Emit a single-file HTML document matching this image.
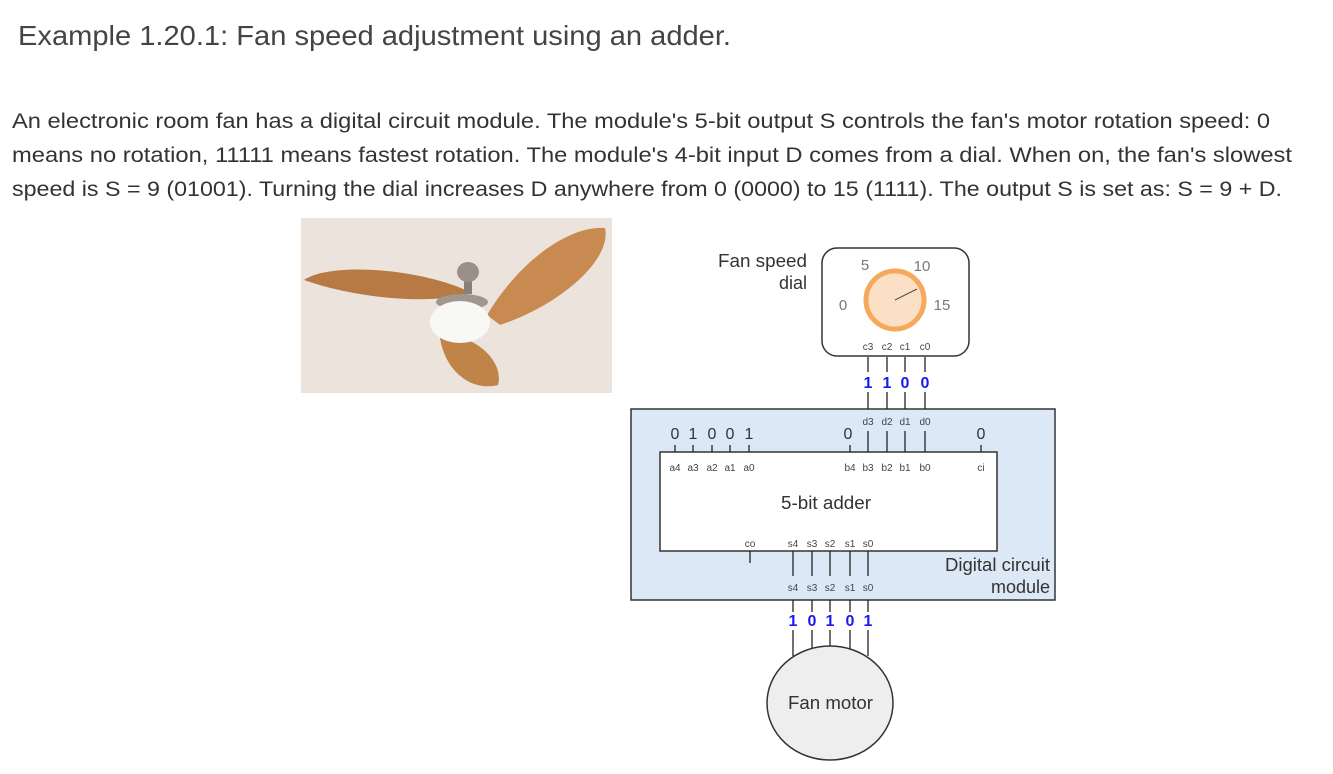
<!DOCTYPE html>
<html><head><meta charset="utf-8"><style>
html,body{margin:0;padding:0;background:#fff;width:1333px;height:774px;overflow:hidden}
svg{display:block}
</style></head><body>
<svg width="1333" height="774" xmlns="http://www.w3.org/2000/svg" font-family="Liberation Sans, sans-serif">
<text x="18" y="45" font-size="28" fill="#444" textLength="713" lengthAdjust="spacingAndGlyphs">Example 1.20.1: Fan speed adjustment using an adder.</text>
<g font-size="21" fill="#333">
<text x="12" y="128" textLength="1258" lengthAdjust="spacingAndGlyphs">An electronic room fan has a digital circuit module. The module's 5-bit output S controls the fan's motor rotation speed: 0</text>
<text x="12" y="162" textLength="1280" lengthAdjust="spacingAndGlyphs">means no rotation, 11111 means fastest rotation. The module's 4-bit input D comes from a dial. When on, the fan's slowest</text>
<text x="12" y="196" textLength="1270" lengthAdjust="spacingAndGlyphs">speed is S = 9 (01001). Turning the dial increases D anywhere from 0 (0000) to 15 (1111). The output S is set as: S = 9 + D.</text>
</g>
<!-- photo -->
<rect x="301" y="218" width="311" height="175" fill="#ece4dc"/>
<path d="M304,280 C330,262 420,268 470,292 C440,305 360,300 304,280 Z" fill="#b87a45"/>
<path d="M487,315 C520,260 570,225 605,228 C612,260 560,305 500,325 Z" fill="#c88a50"/>
<path d="M440,338 C470,330 505,360 498,385 C470,392 445,370 440,338 Z" fill="#c08448"/>
<rect x="464" y="272" width="8" height="22" fill="#8a8078"/>
<ellipse cx="468" cy="272" rx="11" ry="10" fill="#9a9088"/>
<ellipse cx="462" cy="302" rx="26" ry="8" fill="#a09890"/>
<ellipse cx="460" cy="322" rx="30" ry="21" fill="#f8f8f6"/>
<!-- dial -->
<g font-size="18" fill="#333" text-anchor="end">
<text x="807" y="267" textLength="89" lengthAdjust="spacingAndGlyphs">Fan speed</text><text x="807" y="289">dial</text>
</g>
<rect x="822" y="248" width="147" height="108" rx="15" fill="#fff" stroke="#333" stroke-width="1.5"/>
<circle cx="895" cy="300" r="29" fill="#fbe0c6" stroke="#f5a95a" stroke-width="5"/>
<line x1="895" y1="300" x2="917" y2="289" stroke="#555" stroke-width="1.2"/>
<g font-size="15" fill="#777" text-anchor="middle">
<text x="865" y="270">5</text><text x="922" y="271">10</text><text x="843" y="310">0</text><text x="942" y="310">15</text>
</g>
<g font-size="10" fill="#444" text-anchor="middle">
<text x="868" y="350">c3</text><text x="887" y="350">c2</text><text x="905" y="350">c1</text><text x="925" y="350">c0</text>
</g>
<!-- module -->
<rect x="631" y="409" width="424" height="191" fill="#dce8f5" stroke="#333" stroke-width="1.5"/>
<rect x="660" y="452" width="337" height="99" fill="#fff" stroke="#333" stroke-width="1.5"/>
<g stroke="#222" stroke-width="1.3">
<line x1="868" y1="357" x2="868" y2="372"/><line x1="887" y1="357" x2="887" y2="372"/><line x1="905" y1="357" x2="905" y2="372"/><line x1="925" y1="357" x2="925" y2="372"/>
<line x1="868" y1="392" x2="868" y2="409"/><line x1="887" y1="392" x2="887" y2="409"/><line x1="905" y1="392" x2="905" y2="409"/><line x1="925" y1="392" x2="925" y2="409"/>
<line x1="868" y1="431" x2="868" y2="452"/><line x1="887" y1="431" x2="887" y2="452"/><line x1="905" y1="431" x2="905" y2="452"/><line x1="925" y1="431" x2="925" y2="452"/>
<line x1="850" y1="445" x2="850" y2="452"/><line x1="981" y1="445" x2="981" y2="452"/>
<line x1="675" y1="445" x2="675" y2="452"/><line x1="693" y1="445" x2="693" y2="452"/><line x1="712" y1="445" x2="712" y2="452"/><line x1="730" y1="445" x2="730" y2="452"/><line x1="749" y1="445" x2="749" y2="452"/>
<line x1="750" y1="551" x2="750" y2="563"/>
<line x1="793" y1="551" x2="793" y2="576"/><line x1="812" y1="551" x2="812" y2="576"/><line x1="830" y1="551" x2="830" y2="576"/><line x1="850" y1="551" x2="850" y2="576"/><line x1="868" y1="551" x2="868" y2="576"/>
<line x1="793" y1="600" x2="793" y2="612"/><line x1="812" y1="600" x2="812" y2="612"/><line x1="830" y1="600" x2="830" y2="612"/><line x1="850" y1="600" x2="850" y2="612"/><line x1="868" y1="600" x2="868" y2="612"/>
<line x1="793" y1="630" x2="793" y2="656"/><line x1="812" y1="630" x2="812" y2="652"/><line x1="830" y1="630" x2="830" y2="650"/><line x1="850" y1="630" x2="850" y2="652"/><line x1="868" y1="630" x2="868" y2="656"/>
</g>
<g font-size="16" font-weight="bold" fill="#1a1aee" text-anchor="middle">
<text x="868" y="388">1</text><text x="887" y="388">1</text><text x="905" y="388">0</text><text x="925" y="388">0</text>
<text x="793" y="626">1</text><text x="812" y="626">0</text><text x="830" y="626">1</text><text x="850" y="626">0</text><text x="868" y="626">1</text>
</g>
<g font-size="16" fill="#333" text-anchor="middle">
<text x="675" y="439">0</text><text x="693" y="439">1</text><text x="712" y="439">0</text><text x="730" y="439">0</text><text x="749" y="439">1</text>
<text x="848" y="439">0</text><text x="981" y="439">0</text>
</g>
<g font-size="10" fill="#444" text-anchor="middle">
<text x="868" y="425">d3</text><text x="887" y="425">d2</text><text x="905" y="425">d1</text><text x="925" y="425">d0</text>
<text x="675" y="471">a4</text><text x="693" y="471">a3</text><text x="712" y="471">a2</text><text x="730" y="471">a1</text><text x="749" y="471">a0</text>
<text x="850" y="471">b4</text><text x="868" y="471">b3</text><text x="887" y="471">b2</text><text x="905" y="471">b1</text><text x="925" y="471">b0</text>
<text x="981" y="471">ci</text>
<text x="750" y="547">co</text>
<text x="793" y="547">s4</text><text x="812" y="547">s3</text><text x="830" y="547">s2</text><text x="850" y="547">s1</text><text x="868" y="547">s0</text>
<text x="793" y="591">s4</text><text x="812" y="591">s3</text><text x="830" y="591">s2</text><text x="850" y="591">s1</text><text x="868" y="591">s0</text>
</g>
<text x="781" y="509" font-size="18" fill="#333" textLength="90" lengthAdjust="spacingAndGlyphs">5-bit adder</text>
<g font-size="18" fill="#333" text-anchor="end">
<text x="1050" y="571" textLength="105" lengthAdjust="spacingAndGlyphs">Digital circuit</text><text x="1050" y="593">module</text>
</g>
<ellipse cx="830" cy="703" rx="63" ry="57" fill="#eeeeee" stroke="#333" stroke-width="1.5"/>
<text x="788" y="709" font-size="18" fill="#333" textLength="85" lengthAdjust="spacingAndGlyphs">Fan motor</text>
</svg>
</body></html>
